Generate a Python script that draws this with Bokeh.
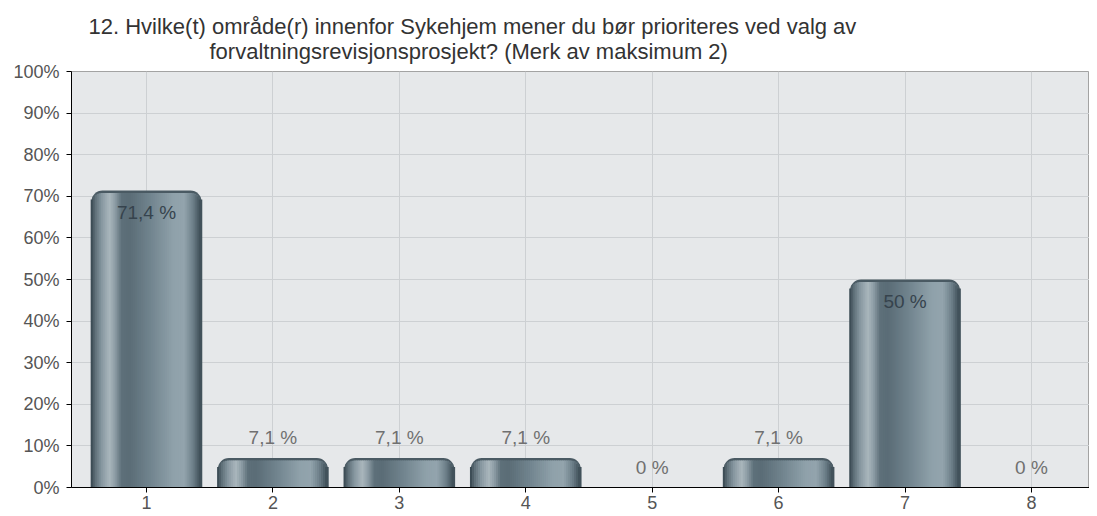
import math
from bokeh.plotting import figure
from bokeh.models import (Title, FixedTicker, NumeralTickFormatter, Range1d, ColumnDataSource)
from bokeh.core.properties import value
from bokeh.embed import file_html
from bokeh.resources import INLINE

# ---- data ----
categories = [1, 2, 3, 4, 5, 6, 7, 8]
shares = [0.714, 0.071, 0.071, 0.071, 0.0, 0.071, 0.50, 0.0]
labels = ["71,4 %", "7,1 %", "7,1 %", "7,1 %", "0 %", "7,1 %", "50 %", "0 %"]
y_ticks = [0, 0.1, 0.2, 0.3, 0.4, 0.5, 0.6, 0.7, 0.8, 0.9, 1.0]
title_line1 = "12. Hvilke(t) område(r) innenfor Sykehjem mener du bør prioriteres ved valg av"
title_line2 = "forvaltningsrevisjonsprosjekt? (Merk av maksimum 2)"

# ---- style ----
BAR_W = 0.87
FONT = "Liberation Sans"
FRAME_TOP, FRAME_BOTTOM = 71, 487
PX_PER_UNIT_Y = float(FRAME_BOTTOM - FRAME_TOP)
BAR_PX = 110.0
RADIUS = 11.0
grad_stops = [(0.00, "#34434c"), (0.04, "#5d6e77"), (0.10, "#8797a0"), (0.17, "#aab6bc"),
              (0.22, "#8e9ea6"), (0.28, "#5e707a"), (0.35, "#5a6c76"), (0.55, "#72858f"),
              (0.75, "#8fa1aa"), (0.85, "#93a4ad"), (0.93, "#6e808a"), (1.00, "#3c4b54")]


def hex2rgb(h):
    return tuple(int(h[i:i + 2], 16) for i in (1, 3, 5))


def grad_color(t):
    for (t0, c0), (t1, c1) in zip(grad_stops[:-1], grad_stops[1:]):
        if t0 <= t <= t1:
            f = (t - t0) / (t1 - t0) if t1 > t0 else 0
            a, b = hex2rgb(c0), hex2rgb(c1)
            return "#%02x%02x%02x" % tuple(round(a[k] + (b[k] - a[k]) * f) for k in range(3))
    return grad_stops[-1][1]


H = 512
W = 1089
p = figure(width=W, height=H, output_backend="svg", toolbar_location=None,
           x_range=Range1d(0.407, 8.459), y_range=Range1d(0, 1.0),
           min_border_left=71, min_border_top=FRAME_TOP, min_border_right=0,
           min_border_bottom=H - FRAME_BOTTOM,
           background_fill_color="#e6e8ea", border_fill_color="white")
p.outline_line_color = "#a3a3a3"

# base bars with rounded top
src = ColumnDataSource(dict(x=categories, top=shares))
p.vbar(x="x", top="top", bottom=0, width=BAR_W, source=src,
       fill_color="#4a5a63", line_color=None, border_radius=[11, 11, 0, 0])

# gradient stripes (rounded top approximated per stripe)
N = 55
sw = BAR_W / N
for i in range(N):
    t = (i + 0.5) / N
    off = -BAR_W / 2 + t * BAR_W
    d = min(t, 1 - t) * BAR_PX
    if d < RADIUS:
        cut_px = RADIUS - math.sqrt(max(RADIUS ** 2 - (RADIUS - d) ** 2, 0)) + 2.5
    else:
        cut_px = 2.5
    cut = cut_px / PX_PER_UNIT_Y
    xs = [c0 + off for c0 in categories]
    tops = [max(v - cut, 0) for v in shares]
    p.vbar(x=xs, top=tops, bottom=0, width=sw * 1.8, fill_color=grad_color(t), line_color=None)

# value labels
offs = [22 if v > 0.2 else -20 for v in shares]
cols = ["#36434d" if v > 0.2 else "#707070" for v in shares]
p.text(x=categories, y=shares, text=labels, y_offset=offs, text_color=cols,
       text_align="center", text_baseline="middle",
       text_font=value(FONT), text_font_size="19px")

# axes
p.yaxis.ticker = FixedTicker(ticks=y_ticks)
p.yaxis.formatter = NumeralTickFormatter(format="0%")
p.xaxis.ticker = FixedTicker(ticks=categories)
for ax in (p.xaxis, p.yaxis):
    ax.axis_line_color = "black"
    ax.major_tick_line_color = "black"
    ax.major_tick_out = 5
    ax.major_tick_in = 0
    ax.minor_tick_line_color = None
    ax.major_label_text_color = "#555555"
    ax.major_label_text_font = FONT
    ax.major_label_text_font_size = "18px"
p.xaxis.major_label_standoff = 3
p.yaxis.major_label_standoff = 7

p.xgrid.ticker = FixedTicker(ticks=categories)
p.grid.grid_line_color = "#cdd0d3"
p.grid.grid_line_width = 1

# title lines (first added sits closest to the plot)
p.add_layout(Title(text=title_line2, align="left", offset=138, standoff=15,
                   text_font=FONT, text_font_size="22px", text_color="#333333",
                   text_font_style="normal"), "above")
p.add_layout(Title(text=title_line1, align="left", offset=17, standoff=-18,
                   text_font=FONT, text_font_size="22px", text_color="#333333",
                   text_font_style="normal"), "above")

open("out.html", "w").write(file_html(p, INLINE))
